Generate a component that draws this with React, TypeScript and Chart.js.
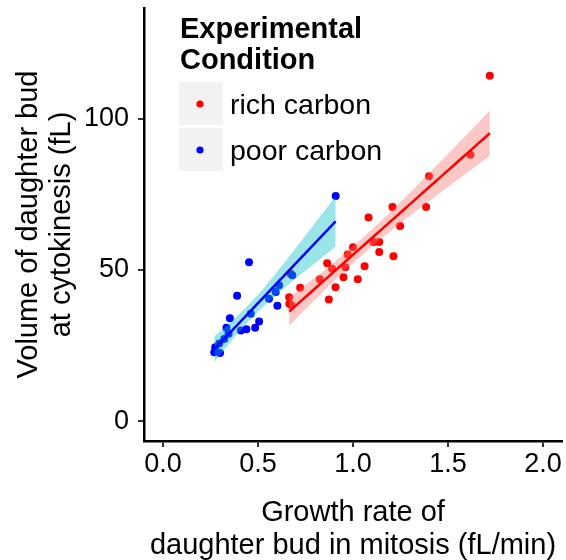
import React, { useEffect, useRef } from "react";
import { Chart, registerables } from "chart.js";

Chart.register(...registerables);

// ---- data ----
const richX = [1.72, 1.618, 1.4, 1.385, 1.208, 1.248, 1.082, 1.108, 1.138, 1.138, 1.213, 1.0, 0.972, 0.96, 1.061, 0.864, 0.89, 0.95, 1.025, 0.825, 0.908, 0.722, 0.873, 0.664, 0.665, 0.676, 0.67];
const richY = [114.1, 88.0, 80.9, 70.8, 70.8, 64.5, 67.3, 59.2, 59.2, 55.9, 54.5, 57.5, 55.1, 50.9, 51.2, 52.2, 50.4, 47.6, 46.9, 46.9, 44.3, 44.1, 40.2, 41.0, 38.8, 38.3, 48.8];
const poorX = [0.909, 0.453, 0.39, 0.68, 0.611, 0.593, 0.558, 0.602, 0.462, 0.352, 0.506, 0.334, 0.41, 0.439, 0.485, 0.345, 0.322, 0.296, 0.275, 0.27, 0.3];
const poorY = [74.4, 52.5, 41.5, 48.2, 44.9, 42.7, 40.5, 38.2, 35.5, 34.0, 33.0, 30.9, 30.0, 30.4, 30.9, 28.9, 27.2, 25.7, 24.5, 22.8, 22.6];

const seriesNames = ["rich carbon", "poor carbon"];
const legendTitle = ["Experimental", "Condition"];
const xTicks = [0, 0.5, 1, 1.5, 2];
const xTickLabels = ["0.0", "0.5", "1.0", "1.5", "2.0"];
const yTicks = [0, 50, 100];
const xTitle = ["Growth rate of", "daughter bud in mitosis (fL/min)"];
const yTitle = ["Volume of daughter bud", "at cytokinesis (fL)"];

const FONT = '"Liberation Sans", Arial, Helvetica, sans-serif';
const RED = "#FF0000";
const BLUE = "#0000FF";
const RED_FILL = "rgba(248,118,109,0.4)";
const BLUE_FILL = "rgba(0,191,196,0.4)";

function tQuantile975(df: number) {
  const z = 1.959964;
  const z3 = z ** 3, z5 = z ** 5, z7 = z ** 7;
  return (
    z +
    (z3 + z) / (4 * df) +
    (5 * z5 + 16 * z3 + 3 * z) / (96 * df * df) +
    (3 * z7 + 19 * z5 + 17 * z3 - 15 * z) / (384 * df ** 3)
  );
}

// linear model fit with 95% confidence band (like geom_smooth(method = "lm"))
function lmFit(xs: number[], ys: number[], steps = 80) {
  const n = xs.length;
  const mx = xs.reduce((a, b) => a + b, 0) / n;
  const my = ys.reduce((a, b) => a + b, 0) / n;
  let sxx = 0, sxy = 0;
  for (let i = 0; i < n; i++) {
    sxx += (xs[i] - mx) ** 2;
    sxy += (xs[i] - mx) * (ys[i] - my);
  }
  const b = sxy / sxx;
  const a = my - b * mx;
  let sse = 0;
  for (let i = 0; i < n; i++) sse += (ys[i] - (a + b * xs[i])) ** 2;
  const s = Math.sqrt(sse / (n - 2));
  const t = tQuantile975(n - 2);
  const xmin = Math.min(...xs), xmax = Math.max(...xs);
  const line: { x: number; y: number }[] = [];
  const upper: { x: number; y: number }[] = [];
  const lower: { x: number; y: number }[] = [];
  for (let i = 0; i <= steps; i++) {
    const x = xmin + ((xmax - xmin) * i) / steps;
    const yhat = a + b * x;
    const se = s * Math.sqrt(1 / n + (x - mx) ** 2 / sxx);
    line.push({ x, y: yhat });
    upper.push({ x, y: yhat + t * se });
    lower.push({ x, y: yhat - t * se });
  }
  return { line, upper, lower };
}

const legendPlugin = {
  id: "ggLegend",
  afterDraw(chart: any) {
    const ctx = chart.ctx;
    ctx.save();
    ctx.fillStyle = "#000";
    ctx.textAlign = "left";
    ctx.textBaseline = "alphabetic";
    ctx.font = `bold 29px ${FONT}`;
    ctx.fillText(legendTitle[0], 180, 38);
    ctx.fillText(legendTitle[1], 180, 69);
    const colors = [RED, BLUE];
    for (let i = 0; i < seriesNames.length; i++) {
      const top = 82 + i * 46;
      ctx.fillStyle = "#F2F2F2";
      ctx.fillRect(179, top, 44, 43);
      ctx.fillStyle = colors[i];
      ctx.beginPath();
      ctx.arc(200, top + 22, 3.6, 0, Math.PI * 2);
      ctx.fill();
      ctx.fillStyle = "#000";
      ctx.font = `28.5px ${FONT}`;
      ctx.fillText(seriesNames[i], 230, top + 32);
    }
    ctx.restore();
  },
};

export default function App() {
  const ref = useRef<HTMLCanvasElement | null>(null);

  useEffect(() => {
    document.body.style.margin = "0";
    const canvas = ref.current;
    if (!canvas) return;
    const rich = lmFit(richX, richY);
    const poor = lmFit(poorX, poorY);
    const richPts = richX.map((x, i) => ({ x, y: richY[i] }));
    const poorPts = poorX.map((x, i) => ({ x, y: poorY[i] }));

    const band = (data: any, fill: any, color: string, order: number) => ({
      type: "line",
      data,
      fill,
      backgroundColor: color,
      borderWidth: 0,
      borderColor: "rgba(0,0,0,0)",
      pointRadius: 0,
      tension: 0,
      order,
    });

    const chart = new Chart(canvas, {
      type: "scatter",
      data: {
        datasets: [
          { label: seriesNames[0], data: richPts, backgroundColor: RED, borderWidth: 0, pointRadius: 4, order: 6 } as any,
          { label: seriesNames[1], data: poorPts, backgroundColor: BLUE, borderWidth: 0, pointRadius: 4, order: 5 } as any,
          band(rich.upper, "+1", RED_FILL, 4),
          band(rich.lower, false, "rgba(0,0,0,0)", 4),
          { type: "line", data: rich.line, borderColor: RED, borderWidth: 2.5, pointRadius: 0, fill: false, order: 3 } as any,
          band(poor.upper, "+1", BLUE_FILL, 2),
          band(poor.lower, false, "rgba(0,0,0,0)", 2),
          { type: "line", data: poor.line, borderColor: BLUE, borderWidth: 2.5, pointRadius: 0, fill: false, order: 1 } as any,
        ] as any,
      },
      options: {
        animation: false,
        responsive: false,
        events: [],
        layout: { padding: { top: 8, right: 1, bottom: 0, left: 0 } },
        plugins: { legend: { display: false }, tooltip: { enabled: false } },
        scales: {
          x: {
            type: "linear",
            min: -0.1,
            max: 2.1,
            afterBuildTicks: (s: any) => {
              s.ticks = xTicks.map((v) => ({ value: v }));
            },
            afterFit: (s: any) => {
              s.height = 119;
              s.paddingLeft = 0;
              s.paddingRight = 0;
              s.paddingTop = 0;
              s.paddingBottom = 0;
            },
            ticks: {
              autoSkip: false,
              maxRotation: 0,
              padding: 1,
              color: "#000",
              font: { size: 27, family: FONT },
              callback: (v: any) => xTickLabels[xTicks.indexOf(Number(v))],
            },
            grid: { display: true, drawOnChartArea: false, drawTicks: true, tickLength: 6, color: "#333", lineWidth: 2 },
            border: { display: true, color: "#000", width: 2.5 },
            title: {
              display: true,
              text: xTitle,
              color: "#000",
              font: { size: 29, family: FONT, lineHeight: 1.14 },
              padding: { top: 0, bottom: -3 },
            },
          },
          y: {
            type: "linear",
            min: -6.5,
            max: 136.5,
            afterBuildTicks: (s: any) => {
              s.ticks = yTicks.map((v) => ({ value: v }));
            },
            afterFit: (s: any) => {
              s.width = 144;
              s.paddingLeft = 0;
              s.paddingRight = 0;
              s.paddingTop = 0;
              s.paddingBottom = 0;
            },
            ticks: {
              autoSkip: false,
              padding: 9,
              color: "#000",
              font: { size: 27, family: FONT },
              callback: (v: any) => String(v),
            },
            grid: { display: true, drawOnChartArea: false, drawTicks: true, tickLength: 6, color: "#333", lineWidth: 2 },
            border: { display: true, color: "#000", width: 2.5 },
            title: {
              display: true,
              text: yTitle,
              color: "#000",
              font: { size: 29, family: FONT, lineHeight: 1.14 },
              padding: { top: 12, bottom: 0 },
            },
          },
        },
      } as any,
      plugins: [legendPlugin],
    });
    return () => chart.destroy();
  }, []);

  return <canvas ref={ref} width={566} height={560} style={{ display: "block", width: 566, height: 560 }} />;
}
